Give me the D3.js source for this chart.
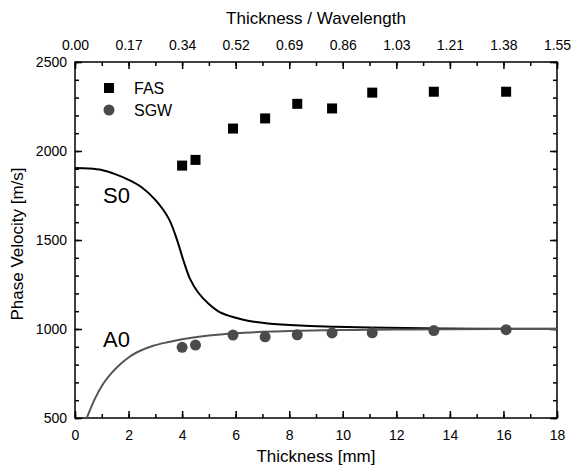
<!DOCTYPE html>
<html>
<head>
<meta charset="utf-8">
<script src="https://cdn.jsdelivr.net/npm/d3@7"></script>
<style>
body { margin: 0; background: #fff; }
svg { display: block; font-family: "Liberation Sans", Arial, sans-serif; }
</style>
</head>
<body>
<div id="chart"></div>
<script>
var width = 573,
height = 470,
margin = {top: 62, right: 16, bottom: 52, left: 75};

// measured points
var fasThickness = [4.0, 4.5, 5.9, 7.1, 8.3, 9.6, 11.1, 13.4, 16.1],
fasVelocity = [1918, 1950, 2126, 2183, 2265, 2239, 2328, 2333, 2333],
sgwThickness = [4.0, 4.5, 5.9, 7.1, 8.3, 9.6, 11.1, 13.4, 16.1],
sgwVelocity = [897, 910, 966, 956, 967, 978, 979, 991, 996];

// dispersion curves
var s0Thickness = [0, 0.5, 1, 1.5, 2, 2.5, 3.0, 3.5, 3.8, 4.05, 4.3, 4.6, 5.0, 5.4, 6.0, 6.5, 7.2, 8.4, 9.6, 11, 13, 15, 18],
s0Velocity = [1905, 1902, 1893, 1870, 1838, 1795, 1725, 1620, 1505, 1385, 1280, 1205, 1140, 1095, 1063, 1045, 1031, 1019, 1013, 1008, 1004, 1002, 1001],
a0Thickness = [0.44, 0.75, 1.06, 1.37, 1.68, 2.0, 2.3, 2.92, 3.54, 4.0, 5.0, 6.0, 7.0, 8.0, 10, 12, 14, 18],
a0Velocity = [500, 610, 694, 754, 801, 840, 868, 906, 928, 942, 963, 976, 984, 989, 994, 997, 999, 1000];

var bottomTicks = [0, 2, 4, 6, 8, 10, 12, 14, 16, 18],
topTickLabels = ["0.00", "0.17", "0.34", "0.52", "0.69", "0.86", "1.03", "1.21", "1.38", "1.55"],
yTicks = [500, 1000, 1500, 2000, 2500];

var svg = d3.select("#chart").append("svg")
	.attr("width", width)
	.attr("height", height);

var x = d3.scaleLinear()
	.domain([0, 18])
	.range([margin.left, width - margin.right]);

var y = d3.scaleLinear()
	.domain([500, 2500])
	.range([height - margin.bottom, margin.top]);

var minorX = d3.range(0, 19, 1),
minorY = d3.range(500, 2501, 100);

function styleAxis(g) {
	g.selectAll(".domain").remove();
	g.selectAll("line").attr("stroke", "#000").attr("stroke-width", 1.5);
	g.selectAll("text").attr("font-size", "14px").attr("fill", "#000");
}

// minor ticks (no labels)
svg.append("g")
	.attr("transform", "translate(0," + y(500) + ")")
	.call(d3.axisBottom(x).tickValues(minorX).tickSize(-4).tickFormat(""))
	.call(styleAxis);
svg.append("g")
	.attr("transform", "translate(0," + y(2500) + ")")
	.call(d3.axisTop(x).tickValues(minorX).tickSize(-4).tickFormat(""))
	.call(styleAxis);
svg.append("g")
	.attr("transform", "translate(" + x(0) + ",0)")
	.call(d3.axisLeft(y).tickValues(minorY).tickSize(-4).tickFormat(""))
	.call(styleAxis);
svg.append("g")
	.attr("transform", "translate(" + x(18) + ",0)")
	.call(d3.axisRight(y).tickValues(minorY).tickSize(-4).tickFormat(""))
	.call(styleAxis);

// major ticks
svg.append("g")
	.attr("transform", "translate(0," + y(500) + ")")
	.call(d3.axisBottom(x).tickValues(bottomTicks).tickSize(-7).tickPadding(12).tickFormat(d3.format("d")))
	.call(styleAxis);
svg.append("g")
	.attr("transform", "translate(0," + y(2500) + ")")
	.call(d3.axisTop(x).tickValues(bottomTicks).tickSize(-7).tickPadding(12)
		.tickFormat(function(d, i) { return topTickLabels[i]; }))
	.call(styleAxis);
svg.append("g")
	.attr("transform", "translate(" + x(0) + ",0)")
	.call(d3.axisLeft(y).tickValues(yTicks).tickSize(-7).tickPadding(8).tickFormat(d3.format("d")))
	.call(styleAxis);
svg.append("g")
	.attr("transform", "translate(" + x(18) + ",0)")
	.call(d3.axisRight(y).tickValues(yTicks).tickSize(-7).tickFormat(""))
	.call(styleAxis);

// frame
svg.append("rect")
	.attr("x", x(0))
	.attr("y", y(2500))
	.attr("width", x(18) - x(0))
	.attr("height", y(500) - y(2500))
	.attr("fill", "none")
	.attr("stroke", "#000")
	.attr("stroke-width", 1.5);

var plot = svg.append("g");
svg.append("clipPath").attr("id", "clip").append("rect")
	.attr("x", x(0)).attr("y", y(2500))
	.attr("width", x(18) - x(0)).attr("height", y(500) - y(2500));

var line = d3.line()
	.x(function(d) { return x(d[0]); })
	.y(function(d) { return y(d[1]); })
	.curve(d3.curveCatmullRom.alpha(0.5));

plot.append("path")
	.datum(d3.zip(s0Thickness, s0Velocity))
	.attr("d", line)
	.attr("fill", "none")
	.attr("stroke", "#000")
	.attr("stroke-width", 2)
	.attr("clip-path", "url(#clip)");

plot.append("path")
	.datum(d3.zip(a0Thickness, a0Velocity))
	.attr("d", line)
	.attr("fill", "none")
	.attr("stroke", "#555")
	.attr("stroke-width", 2)
	.attr("clip-path", "url(#clip)");

plot.selectAll(".sgw")
	.data(d3.zip(sgwThickness, sgwVelocity))
	.enter()
	.append("circle")
	.attr("class", "sgw")
	.attr("cx", function(d) { return x(d[0]); })
	.attr("cy", function(d) { return y(d[1]); })
	.attr("r", 5.5)
	.attr("fill", "#4a4a4a");

plot.selectAll(".fas")
	.data(d3.zip(fasThickness, fasVelocity))
	.enter()
	.append("rect")
	.attr("class", "fas")
	.attr("x", function(d) { return x(d[0]) - 5; })
	.attr("y", function(d) { return y(d[1]) - 5; })
	.attr("width", 10)
	.attr("height", 10)
	.attr("fill", "#000");

// curve labels
svg.append("text").text("S0")
	.attr("x", 103).attr("y", 203)
	.attr("font-size", "22px");
svg.append("text").text("A0")
	.attr("x", 103).attr("y", 347)
	.attr("font-size", "22px");

// legend
svg.append("rect")
	.attr("x", 104).attr("y", 83).attr("width", 10).attr("height", 10)
	.attr("fill", "#000");
svg.append("circle")
	.attr("cx", 109).attr("cy", 110).attr("r", 5.5)
	.attr("fill", "#4a4a4a");
svg.append("text").text("FAS")
	.attr("x", 134).attr("y", 94).attr("font-size", "16px");
svg.append("text").text("SGW")
	.attr("x", 134).attr("y", 116).attr("font-size", "16px");

// axis titles
svg.append("text").text("Thickness [mm]")
	.attr("x", (x(0) + x(18)) / 2).attr("y", 462)
	.attr("text-anchor", "middle")
	.attr("font-size", "17px");
svg.append("text").text("Thickness / Wavelength")
	.attr("x", (x(0) + x(18)) / 2).attr("y", 24)
	.attr("text-anchor", "middle")
	.attr("font-size", "17px");
svg.append("text").text("Phase Velocity [m/s]")
	.attr("transform", "translate(23," + (y(1500) + 4) + ") rotate(-90)")
	.attr("text-anchor", "middle")
	.attr("font-size", "17px");
</script>
</body>
</html>
